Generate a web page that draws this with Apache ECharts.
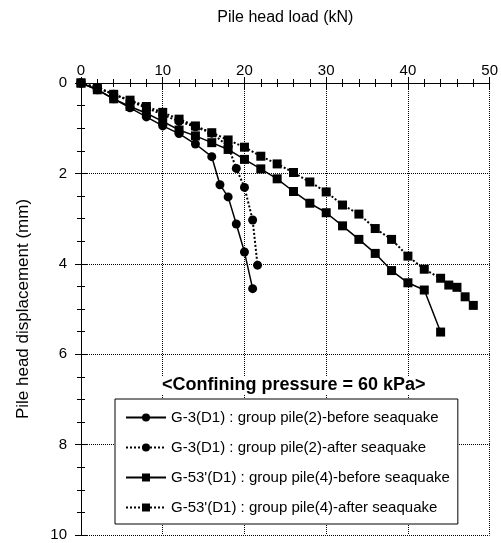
<!DOCTYPE html>
<html>
<head>
<meta charset="utf-8">
<script src="https://cdn.jsdelivr.net/npm/echarts@6/dist/echarts.min.js"></script>
<style>
  html, body { margin: 0; padding: 0; background: #fff; }
  #chart { width: 501px; height: 543px; }
</style>
</head>
<body>
<div id="chart"></div>
<script>
// 数据
const xTicks = [0, 10, 20, 30, 40, 50];
const yTicks = [0, 2, 4, 6, 8, 10];

const g3BeforeLoad = [0, 2, 4, 6, 8, 10, 12, 14, 16, 17, 18, 19, 20, 21];
const g3BeforeDisp = [0, 0.15, 0.35, 0.55, 0.75, 0.95, 1.12, 1.35, 1.63, 2.25, 2.52, 3.12, 3.74, 4.55];

const g3AfterLoad = [0, 2, 4, 6, 8, 10, 12, 14, 16, 18, 19, 20, 21, 21.6];
const g3AfterDisp = [0, 0.1, 0.25, 0.4, 0.55, 0.7, 0.85, 0.97, 1.11, 1.4, 1.89, 2.31, 3.03, 4.03];

const g53BeforeLoad = [0, 2, 4, 6, 8, 10, 12, 14, 16, 18, 20, 22, 24, 26, 28, 30, 32, 34, 36, 38, 40, 42, 44];
const g53BeforeDisp = [0, 0.15, 0.35, 0.52, 0.67, 0.85, 1.04, 1.17, 1.32, 1.47, 1.69, 1.9, 2.12, 2.4, 2.66, 2.87, 3.16, 3.46, 3.77, 4.15, 4.42, 4.58, 5.51];

const g53AfterLoad = [0, 2, 4, 6, 8, 10, 12, 14, 16, 18, 20, 22, 24, 26, 28, 30, 32, 34, 36, 38, 40, 42, 44, 45, 46, 47, 48];
const g53AfterDisp = [0, 0.1, 0.25, 0.38, 0.52, 0.65, 0.8, 0.95, 1.1, 1.26, 1.42, 1.62, 1.79, 1.98, 2.19, 2.41, 2.7, 2.9, 3.22, 3.46, 3.83, 4.12, 4.32, 4.47, 4.52, 4.73, 4.92];

const seriesNames = [
  "G-3(D1) : group pile(2)-before seaquake",
  "G-3(D1) : group pile(2)-after seaquake",
  "G-53'(D1) : group pile(4)-before seaquake",
  "G-53'(D1) : group pile(4)-after seaquake",
];

const zip = (xs, ys) => xs.map((x, i) => [x, ys[i]]);

const font = "Liberation Sans, Arial, sans-serif";

const makeSeries = (name, data, symbol, dotted) => ({
  name: name,
  type: "line",
  xAxisIndex: 0,
  yAxisIndex: 0,
  data: data,
  symbol: symbol,
  symbolSize: 9,
  showSymbol: true,
  lineStyle: { color: "#000", width: dotted ? 2 : 1.5, type: dotted ? "dotted" : "solid" },
  itemStyle: { color: "#000" },
  z: 5,
});

const chart = echarts.init(document.getElementById("chart"));

const axisCommon = {
  axisLine: { show: true, lineStyle: { color: "#000", width: 1 } },
  axisTick: { show: true, inside: true, length: 6, lineStyle: { color: "#000" } },
  minorTick: { show: true, length: 4, lineStyle: { color: "#000" } },
};

chart.setOption({
  animation: false,
  backgroundColor: "#fff",
  textStyle: { fontFamily: font },
  grid: { left: 81, right: 11, top: 83, bottom: 8, containLabel: false },
  title: {
    text: "<Confining pressure = 60 kPa>",
    left: 162,
    top: 376,
    padding: 0,
    backgroundColor: "#fff",
    textStyle: { fontFamily: font, fontSize: 18, fontWeight: "bold", color: "#000" },
  },
  legend: {
    orient: "vertical",
    left: 115,
    top: 399,
    padding: [11, 8, 9, 10],
    itemGap: 15,
    itemWidth: 40,
    itemHeight: 10,
    borderColor: "#000",
    borderWidth: 1,
    backgroundColor: "#fff",
    data: seriesNames,
    textStyle: { fontFamily: font, fontSize: 15, color: "#000" },
  },
  xAxis: [
    Object.assign({}, axisCommon, {
      type: "value",
      position: "top",
      min: 0,
      max: 50,
      interval: 10,
      minorTick: Object.assign({}, axisCommon.minorTick, { splitNumber: 5 }),
      name: "Pile head load (kN)",
      nameLocation: "middle",
      nameGap: 57,
      nameTextStyle: { fontFamily: font, fontSize: 16, color: "#000" },
      axisLabel: {
        color: "#000",
        fontSize: 15,
        fontFamily: font,
        margin: 5,
        formatter: (v) => (xTicks.includes(v) ? String(v) : ""),
      },
      splitLine: { show: true, lineStyle: { color: "#000", type: "dotted", width: 1 } },
    }),
    Object.assign({}, axisCommon, {
      type: "value",
      position: "bottom",
      min: 0,
      max: 50,
      interval: 10,
      minorTick: Object.assign({}, axisCommon.minorTick, { splitNumber: 5 }),
      axisLabel: { show: false },
      splitLine: { show: false },
    }),
  ],
  yAxis: [
    Object.assign({}, axisCommon, {
      type: "value",
      inverse: true,
      position: "left",
      min: 0,
      max: 10,
      interval: 2,
      minorTick: Object.assign({}, axisCommon.minorTick, { splitNumber: 4 }),
      name: "Pile head displacement (mm)",
      nameLocation: "middle",
      nameRotate: 90,
      nameGap: 49,
      nameTextStyle: { fontFamily: font, fontSize: 17, color: "#000" },
      axisLabel: {
        color: "#000",
        fontSize: 15,
        fontFamily: font,
        margin: 14,
        formatter: (v) => (yTicks.includes(v) ? String(v) : ""),
      },
      splitLine: { show: true, lineStyle: { color: "#000", type: "dotted", width: 1 } },
    }),
    Object.assign({}, axisCommon, {
      type: "value",
      inverse: true,
      position: "right",
      min: 0,
      max: 10,
      interval: 2,
      minorTick: Object.assign({}, axisCommon.minorTick, { splitNumber: 4 }),
      axisLabel: { show: false },
      splitLine: { show: false },
    }),
  ],
  series: [
    makeSeries(seriesNames[0], zip(g3BeforeLoad, g3BeforeDisp), "circle", false),
    makeSeries(seriesNames[1], zip(g3AfterLoad, g3AfterDisp), "circle", true),
    makeSeries(seriesNames[2], zip(g53BeforeLoad, g53BeforeDisp), "rect", false),
    makeSeries(seriesNames[3], zip(g53AfterLoad, g53AfterDisp), "rect", true),
  ],
});
</script>
</body>
</html>
